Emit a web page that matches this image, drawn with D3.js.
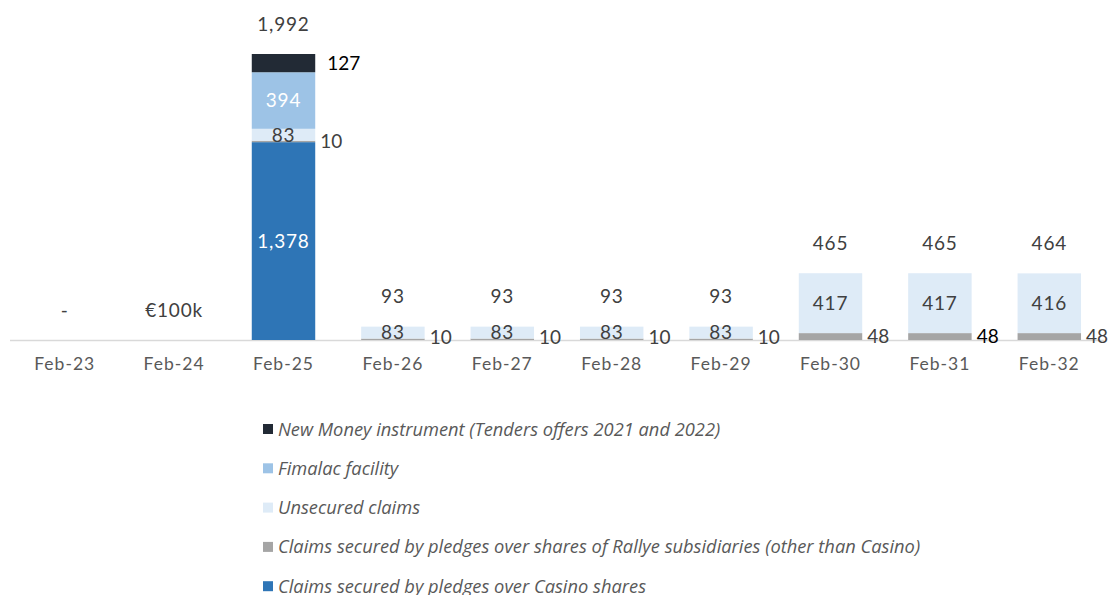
<!DOCTYPE html>
<html>
<head>
<meta charset="utf-8">
<script src="https://cdn.jsdelivr.net/npm/d3@7"></script>
<style>
  body { margin: 0; background: #fff; }
  svg text { font-family: "Lato", "Open Sans", sans-serif; }
</style>
</head>
<body>
<div id="chart"></div>
<script>
// categories and series (EUR m)
const categories = ["Feb-23", "Feb-24", "Feb-25", "Feb-26", "Feb-27", "Feb-28", "Feb-29", "Feb-30", "Feb-31", "Feb-32"];
const casino    = [0, 0, 1378, 0, 0, 0, 0, 0, 0, 0];
const rallye    = [0, 0, 10, 10, 10, 10, 10, 48, 48, 48];
const unsecured = [0, 0, 83, 83, 83, 83, 83, 417, 417, 416];
const fimalac   = [0, 0, 394, 0, 0, 0, 0, 0, 0, 0];
const newMoney  = [0, 0, 127, 0, 0, 0, 0, 0, 0, 0];
const totalLabels = ["-", "€100k", "1,992", "93", "93", "93", "93", "465", "465", "464"];

const seriesNames = [
  "Claims secured by pledges over Casino shares",
  "Claims secured by pledges over shares of Rallye subsidiaries (other than Casino)",
  "Unsecured claims",
  "Fimalac facility",
  "New Money instrument (Tenders offers 2021 and 2022)"
];
const seriesData = [casino, rallye, unsecured, fimalac, newMoney];
const colors = ["#2E75B6", "#A5A5A5", "#DEEBF7", "#9DC3E6", "#222A35"];

const w = 1108, h = 595;
const baseY = 340;

const svg = d3.select("#chart").append("svg")
  .attr("width", w).attr("height", h);

const x = d3.scaleBand().domain(categories).range([10, 1104]).paddingInner(0.42).paddingOuter(0.21);
const y = d3.scaleLinear().domain([0, 1992]).range([baseY, 54]);

const table = categories.map((c, i) => {
  const row = { cat: c };
  seriesNames.forEach((s, k) => row[s] = seriesData[k][i]);
  return row;
});
const stacked = d3.stack().keys(seriesNames)(table);

// axis line
svg.append("line")
  .attr("x1", 10).attr("x2", 1104)
  .attr("y1", baseY + 0.5).attr("y2", baseY + 0.5)
  .attr("stroke", "#d9d9d9").attr("stroke-width", 1.5);

stacked.forEach((layer, k) => {
  svg.append("g").selectAll("rect")
    .data(layer.filter(d => d[1] > d[0]))
    .enter().append("rect")
    .attr("x", d => x(d.data.cat))
    .attr("width", x.bandwidth())
    .attr("y", d => y(d[1]))
    .attr("height", d => y(d[0]) - y(d[1]))
    .attr("fill", colors[k]);
});

// segment labels
stacked.forEach((layer, k) => {
  const outside = (k === 1 || k === 4);
  svg.append("g").selectAll("text")
    .data(layer.filter(d => d[1] > d[0]))
    .enter().append("text")
    .attr("x", d => outside ? x(d.data.cat) + x.bandwidth() + (k === 4 ? 12 : 5) : x(d.data.cat) + x.bandwidth() / 2)
    .attr("y", d => {
      const mid = (y(d[0]) + y(d[1])) / 2;
      if (k === 1) return Math.min(mid, baseY - 3);
      return mid;
    })
    .attr("dy", "0.36em")
    .attr("text-anchor", outside ? "start" : "middle")
    .attr("font-size", 19)
    .attr("letter-spacing", outside ? 0 : 0.8)
    .attr("fill", (d, i) => {
      if (k === 0 || k === 3) return "#ffffff";
      if (k === 4) return "#000000";
      if (k === 1 && d.data.cat === "Feb-31") return "#000000";
      return "#404040";
    })
    .text(d => d3.format(",")(d[1] - d[0]));
});

// totals
svg.append("g").selectAll("text")
  .data(categories)
  .enter().append("text")
  .attr("x", c => x(c) + x.bandwidth() / 2)
  .attr("y", (c, i) => {
    const tot = seriesData.reduce((s, arr) => s + arr[i], 0);
    return tot > 0 ? y(tot) - 30 : 310;
  })
  .attr("dy", "0.36em")
  .attr("text-anchor", "middle")
  .attr("font-size", 19)
  .attr("letter-spacing", 0.8)
  .attr("fill", "#404040")
  .text((c, i) => totalLabels[i]);

// category labels
svg.append("g").selectAll("text")
  .data(categories)
  .enter().append("text")
  .attr("x", c => x(c) + x.bandwidth() / 2)
  .attr("y", 364)
  .attr("dy", "0.36em")
  .attr("text-anchor", "middle")
  .attr("font-size", 17.5)
  .attr("letter-spacing", 1)
  .attr("fill", "#595959")
  .text(c => c);

// legend (top item first)
const legendOrder = [4, 3, 2, 1, 0];
const legend = svg.append("g").selectAll("g")
  .data(legendOrder)
  .enter().append("g")
  .attr("transform", (k, i) => "translate(263," + (429 + i * 39.3) + ")");
legend.append("rect")
  .attr("x", 0).attr("y", -5).attr("width", 10).attr("height", 10)
  .attr("fill", k => colors[k]);
legend.append("text")
  .attr("x", 15).attr("y", 0).attr("dy", "0.36em")
  .attr("font-size", 18.3)
  .attr("font-style", "italic")
  .attr("fill", "#595959")
  .style("font-family", "'Open Sans', sans-serif")
  .text(k => seriesNames[k]);
</script>
</body>
</html>
